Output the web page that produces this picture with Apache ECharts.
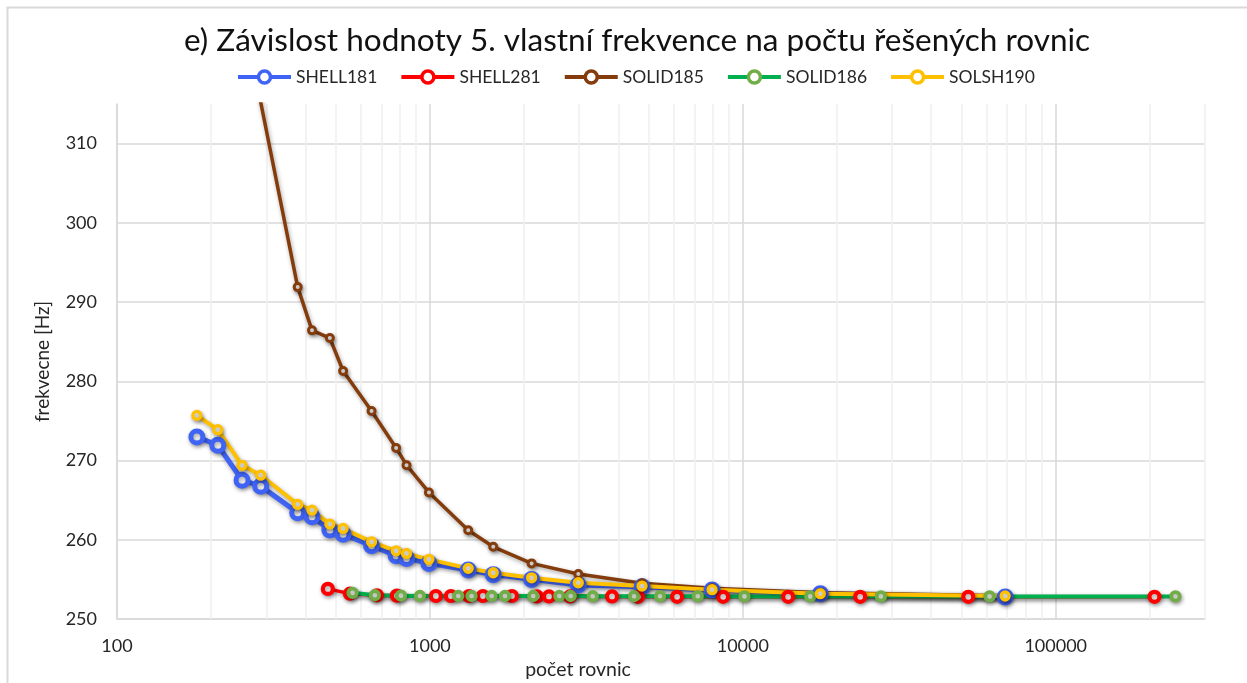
<!DOCTYPE html>
<html>
<head>
<meta charset="utf-8">
<script src="https://cdn.jsdelivr.net/npm/echarts@6/dist/echarts.min.js"></script>
<style>
  html, body { margin: 0; padding: 0; background: #ffffff; }
  #chart { width: 1247px; height: 683px; }
</style>
</head>
<body>
<div id="chart"></div>
<script>
// Number of solved equations (x) for each mesh and the 5th natural frequency [Hz] (y)
const eqShell = [180, 210, 251, 288, 378, 420, 479, 528, 651, 780, 842, 993, 1326, 1594, 2114, 2980, 4764, 7977, 17690, 68940];
const shell181 = [272.98, 271.93, 267.52, 266.77, 263.40, 262.90, 261.22, 260.71, 259.24, 257.98, 257.65, 257.02, 256.18, 255.6, 255.0, 254.29, 254.07, 253.66, 253.2, 252.77];
const solsh190 = [275.7, 273.9, 269.4, 268.15, 264.46, 263.74, 261.98, 261.43, 259.74, 258.61, 258.28, 257.53, 256.39, 255.84, 255.2, 254.58, 254.16, 253.7, 253.2, 252.9];

const eqSolid185 = [251, 378, 420, 479, 528, 651, 780, 842, 993, 1326, 1594, 2114, 2980, 4764, 7977, 17690, 68940];
const solid185 = [327.0, 291.89, 286.43, 285.46, 281.30, 276.26, 271.59, 269.41, 265.97, 261.2, 259.11, 257.02, 255.67, 254.5, 253.87, 253.3, 252.95];

const eqShell281 = [472, 555, 677, 784, 1045, 1167, 1333, 1477, 1829, 2199, 2402, 2804, 3820, 4626, 6166, 8652, 13960, 23720, 52550, 206800];
const shell281 = [253.8, 253.2, 253.0, 252.95, 252.9, 252.9, 252.9, 252.9, 252.9, 252.85, 252.85, 252.85, 252.85, 252.8, 252.8, 252.8, 252.8, 252.8, 252.8, 252.8];

const eqSolid186 = [566, 667, 808, 929, 1232, 1359, 1575, 1737, 2139, 2591, 2818, 3314, 4492, 5439, 7179, 10120, 16420, 27630, 61460, 241300];
const solid186 = [253.3, 253.0, 252.95, 252.9, 252.9, 252.9, 252.9, 252.9, 252.9, 252.9, 252.9, 252.87, 252.87, 252.87, 252.87, 252.85, 252.85, 252.85, 252.85, 252.85];

const seriesNames = ['SHELL181', 'SHELL281', 'SOLID185', 'SOLID186', 'SOLSH190'];
const yTickLabels = [250, 260, 270, 280, 290, 300, 310];

const FONT = 'Lato';
const TEXT = '#262626';

function pairs(xs, ys) {
  return xs.map(function (x, i) { return [x, ys[i]]; });
}

// light minor grid lines at 2..9 x 10^k on the log axis
const minorX = [];
for (let p = 100; p <= 100000; p *= 10) {
  for (let d = 2; d <= 9; d++) {
    if (d * p <= 300000) minorX.push(d * p);
  }
}

const shadow = {
  shadowColor: 'rgba(0,0,0,0.35)',
  shadowBlur: 4,
  shadowOffsetX: 1,
  shadowOffsetY: 2
};

function lineSeries(name, data, color, markerColor, lineWidth, size, border) {
  return {
    name: name,
    type: 'line',
    data: data,
    symbol: 'circle',
    symbolSize: size,
    showAllSymbol: true,
    clip: true,
    z: 3,
    lineStyle: Object.assign({ color: color, width: lineWidth }, shadow),
    itemStyle: Object.assign({ color: '#ffffff', borderColor: markerColor, borderWidth: border }, shadow),
    emphasis: { disabled: true }
  };
}

const chart = echarts.init(document.getElementById('chart'), null, { renderer: 'canvas' });

chart.setOption({
  animation: false,
  backgroundColor: '#ffffff',
  textStyle: { fontFamily: FONT },
  title: {
    text: 'e) Závislost hodnoty 5. vlastní frekvence na počtu řešených rovnic',
    left: 632,
    textAlign: 'center',
    top: 20,
    textStyle: { fontFamily: FONT, fontSize: 31.5, fontWeight: 'normal', color: '#111111' }
  },
  legend: {
    data: seriesNames.map(function (n) {
      return { name: n, itemStyle: { borderWidth: 3.5 } };
    }),
    top: 63,
    left: 231,
    itemWidth: 53,
    itemHeight: 15,
    itemGap: 22,
    lineStyle: { width: 4 },
    textStyle: { fontFamily: FONT, fontSize: 17.5, color: TEXT }
  },
  grid: { left: 117, right: 42, top: 104, bottom: 64, containLabel: false },
  xAxis: {
    type: 'log',
    logBase: 10,
    min: 100,
    max: 300000,
    axisLine: { show: true, lineStyle: { color: '#d9d9d9', width: 1.5 } },
    axisTick: { show: false },
    axisLabel: {
      showMaxLabel: false,
      margin: 18,
      fontFamily: FONT, fontSize: 18, color: TEXT,
      formatter: function (v) { return String(Math.round(v)); }
    },
    splitLine: { show: true, showMaxLine: false, lineStyle: { color: '#d9d9d9', width: 1.5 } }
  },
  yAxis: {
    type: 'value',
    min: 250,
    max: 315,
    interval: 10,
    name: 'frekvecne [Hz]',
    nameLocation: 'middle',
    nameGap: 65,
    nameTextStyle: { fontFamily: FONT, fontSize: 19, color: TEXT },
    axisLine: { show: true, lineStyle: { color: '#d9d9d9', width: 1.5 } },
    axisTick: { show: false },
    axisLabel: {
      showMaxLabel: false,
      margin: 20,
      fontFamily: FONT, fontSize: 18, color: TEXT,
      formatter: function (v) { return yTickLabels.indexOf(v) >= 0 ? String(v) : ''; }
    },
    splitLine: { show: true, showMaxLine: false, lineStyle: { color: '#d9d9d9', width: 1.5 } }
  },
  graphic: [
    {
      type: 'rect',
      silent: true,
      shape: { x: 7.5, y: 7.5, width: 1300, height: 800 },
      style: { fill: 'none', stroke: '#d9d9d9', lineWidth: 2 }
    },
    {
      type: 'text',
      silent: true,
      x: 578,
      y: 670,
      style: {
        text: 'počet rovnic',
        fontFamily: FONT,
        fontSize: 19.5,
        fill: TEXT,
        textAlign: 'center',
        textVerticalAlign: 'middle'
      }
    }
  ],
  series: [
    {
      name: 'minor',
      type: 'line',
      data: [],
      silent: true,
      z: 1,
      markLine: {
        silent: true,
        z: 1,
        symbol: ['none', 'none'],
        label: { show: false },
        animation: false,
        lineStyle: { color: '#efefef', width: 1.5, type: 'solid' },
        emphasis: { disabled: true },
        data: minorX.map(function (v) { return { xAxis: v }; })
      }
    },
    lineSeries('SHELL181', pairs(eqShell, shell181), '#3f63f4', '#3f63f4', 5, 12, 5),
    lineSeries('SHELL281', pairs(eqShell281, shell281), '#ff0000', '#ff0000', 3.5, 10, 4.2),
    lineSeries('SOLID185', pairs(eqSolid185, solid185), '#843c0c', '#843c0c', 3.5, 7, 3),
    lineSeries('SOLID186', pairs(eqSolid186, solid186), '#00b050', '#70ad47', 4, 8.5, 3.8),
    lineSeries('SOLSH190', pairs(eqShell, solsh190), '#ffc000', '#ffc000', 4, 8, 3.3)
  ]
});
</script>
</body>
</html>
